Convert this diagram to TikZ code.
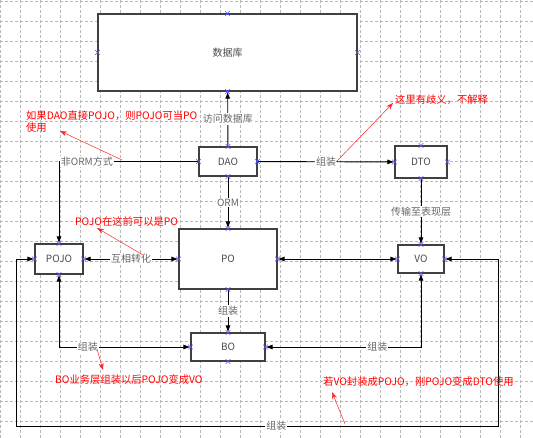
\documentclass[tikz,border=0pt]{standalone}
\usepackage{fontspec}
\setmainfont{Noto Sans CJK SC}
\usetikzlibrary{arrows.meta,shapes.misc,calc}
\tikzstyle{box}=[rectangle,draw=black!75,line width=1.1pt,fill=white,inner sep=0pt,font=\fontsize{10}{12}\selectfont,text=black!70]
\tikzstyle{xmark}=[cross out,draw=blue!65,minimum size=4pt,inner sep=0pt,line width=0.6pt]
\tikzstyle{edge} = [draw,line width=0.9pt,-{Latex[length=7pt,width=5pt]}]
\tikzstyle{bothedge} = [draw,line width=0.9pt,{Latex[length=7pt,width=5pt]}-{Latex[length=7pt,width=5pt]}]
\tikzstyle{weight} = [fill=white,inner sep=1pt,font=\fontsize{10}{12}\selectfont,text=black!60]
\tikzstyle{note}=[text=red,anchor=west,inner sep=0pt,align=left,font=\fontsize{10.3}{12}\selectfont]
\tikzstyle{remark} = [draw=red!85,line width=0.5pt,-{Stealth[length=7pt,width=5pt]}]
\tikzstyle{gridline}=[black!28,densely dashed,line width=0.8pt]
\begin{document}
\begin{tikzpicture}[x=1pt,y=-1pt]
    \useasboundingbox[fill=white] (0,0) rectangle (533,438);

    % background grid
    \foreach \gx in {0,20,...,520}
        \draw[gridline] (\gx,0) -- (\gx,438);
    \foreach \gy in {1,21,...,421}
        \draw[gridline] (0,\gy) -- (533,\gy);

    \foreach \pos/\name/\label/\w/\h in {{(227.5,52.5)/db/数据库/259/77}, {(228,161.5)/dao/DAO/58/29}, {(421,162)/dto/DTO/52/32}, {(228,259)/po/PO/98/60}, {(59,259)/pojo/POJO/48/30}, {(421,259)/vo/VO/46/28}, {(228,347)/bo/BO/74/28}}
        \node[box,minimum width=\w pt,minimum height=\h pt] (\name) at \pos {\label};

    \coordinate (loopr) at (498,426);
    \coordinate (loopl) at (16,426);

    \foreach \source/ \dest /\weight in {dao/db/访问数据库, dao/dto/组装, dao/po/ORM, dto/vo/传输至表现层, po/bo/组装}
        \path[edge] (\source) -- node[weight] {\weight} (\dest);
    \path[edge] (dao.west) -| node[weight,pos=0.4] {非ORM方式} (pojo.north);
    \path[bothedge] (pojo) -- node[weight] {互相转化} (po);
    \path[bothedge] (po) -- (vo);
    \path[bothedge] (pojo.south) |- node[weight,pos=0.61] {组装} (bo.west);
    \path[bothedge] (vo.south) |- node[weight,pos=0.64] {组装} (bo.east);
    \path[bothedge] (vo.east) -| (loopr) -- node[weight,pos=0.46] {组装} (loopl) |- (pojo.west);

    % connection points
    \foreach \name in {db,dao,dto,po,pojo,vo,bo}
        \foreach \a in {north,south,east,west}
            \node[xmark] at (\name.\a) {};

    % red remarks
    \node[note] (n1) at (26,122) {如果DAO直接POJO，则POJO可当PO\\使用};
    \node[note] (n2) at (395,100) {这里有歧义，不解释};
    \node[note] (n3) at (75,222) {POJO在这前可以是PO};
    \node[note] (n4) at (55,380) {BO业务层组装以后POJO变成VO};
    \node[note] (n5) at (323,382) {若VO封装成POJO，刚POJO变成DTO使用};

    \coordinate (sa) at (122,160);  \coordinate (ta) at (60,131);
    \coordinate (sb) at (336,162);  \coordinate (tb) at (393,103);
    \coordinate (sc) at (143,255);  \coordinate (tc) at (97,228);
    \coordinate (sd) at (97,349);   \coordinate (td) at (103,370);
    \coordinate (se) at (345,424);  \coordinate (te) at (332,392);
    \foreach \name in {a,b,c,d,e}
        \path[remark] (s\name) -- (t\name);
\end{tikzpicture}
\end{document}
